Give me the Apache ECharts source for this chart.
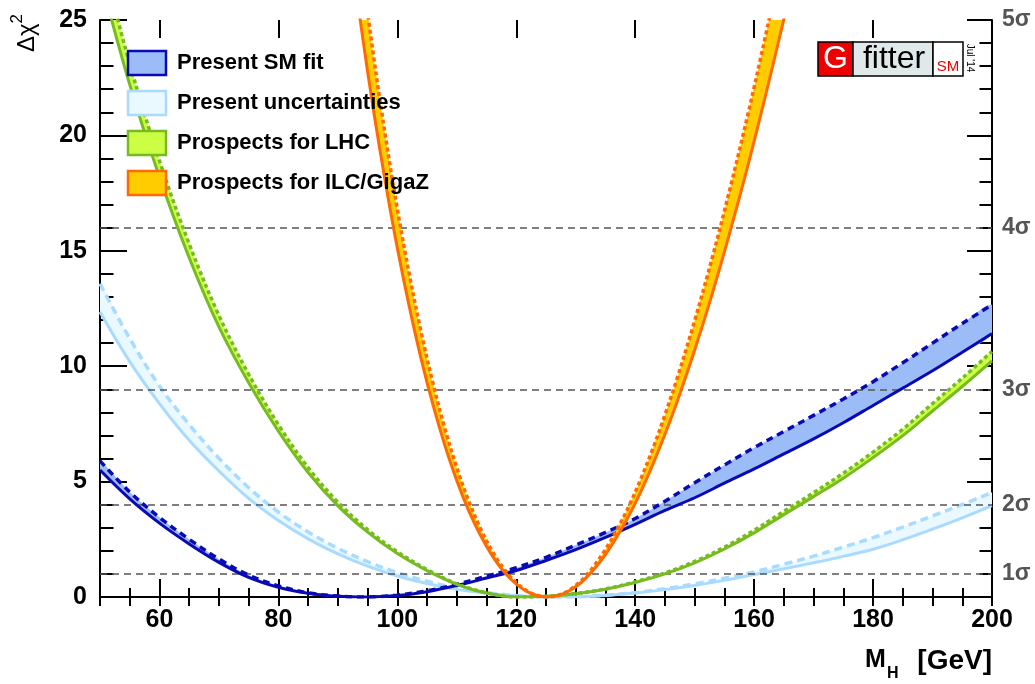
<!DOCTYPE html>
<html>
<head>
<meta charset="utf-8">
<title>Δχ² vs M_H</title>
<script src="https://cdn.jsdelivr.net/npm/echarts@6/dist/echarts.min.js"></script>
<style>
  html, body { margin: 0; padding: 0; background: #fff; }
  #chart { width: 1035px; height: 684px; }
</style>
</head>
<body>
<div id="chart"></div>
<script>
// Higgs mass scan points (GeV) shared by the three wide curves
const massGrid = [50, 55, 60, 65, 70, 75, 80, 85, 90, 95, 100, 105, 110, 115, 120, 125,
  130, 135, 140, 145, 150, 155, 160, 165, 170, 175, 180, 185, 190, 195, 200];

// Present SM fit: solid and dashed edge of the band
const smFitSolid = [5.5, 4.25, 3.2, 2.3, 1.5, 0.85, 0.42, 0.16, 0.03, 0.0, 0.06, 0.23, 0.5, 0.82, 1.15, 1.58,
  2.05, 2.58, 3.15, 3.75, 4.3, 4.93, 5.55, 6.2, 6.85, 7.55, 8.3, 9.05, 9.8, 10.6, 11.42];
const smFitDashed = [5.9, 4.55, 3.45, 2.5, 1.65, 0.95, 0.48, 0.18, 0.04, 0.0, 0.08, 0.27, 0.55, 0.9, 1.27, 1.72,
  2.25, 2.8, 3.4, 4.15, 4.95, 5.72, 6.47, 7.17, 7.87, 8.58, 9.33, 10.15, 11.0, 11.85, 12.66];

// Present uncertainties
const uncSolid = [12.35, 10.2, 8.38, 6.79, 5.46, 4.27, 3.31, 2.52, 1.87, 1.34, 0.91, 0.58, 0.33, 0.16, 0.05, 0.0,
  0.01, 0.07, 0.17, 0.32, 0.5, 0.72, 0.97, 1.22, 1.48, 1.76, 2.07, 2.48, 2.94, 3.43, 3.96];
const uncDashed = [13.57, 11.2, 9.14, 7.47, 6.01, 4.74, 3.68, 2.82, 2.11, 1.53, 1.06, 0.68, 0.39, 0.19, 0.06, 0.0,
  0.01, 0.08, 0.19, 0.36, 0.57, 0.81, 1.09, 1.42, 1.77, 2.16, 2.57, 3.03, 3.51, 4.01, 4.53];

// Prospects for LHC
const lhcSolid = [26.9, 22.2, 18.2, 14.7, 11.7, 9.28, 7.18, 5.39, 3.95, 2.81, 1.88, 1.14, 0.55, 0.17, 0.0, 0.03,
  0.14, 0.34, 0.63, 1.0, 1.48, 2.08, 2.78, 3.57, 4.35, 5.15, 6.04, 6.99, 8.06, 9.12, 10.23];
const lhcDashed = [28.0, 23.1, 18.9, 15.3, 12.2, 9.65, 7.47, 5.61, 4.11, 2.92, 1.96, 1.19, 0.57, 0.18, 0.0, 0.03,
  0.15, 0.35, 0.66, 1.04, 1.54, 2.16, 2.89, 3.71, 4.52, 5.36, 6.28, 7.27, 8.38, 9.48, 10.64];

// Prospects for ILC/GigaZ (finer mass points, narrow parabola)
const ilcMass = [92, 94, 96, 98, 100, 102, 104, 106, 108, 110, 112, 114, 116, 118, 120, 122, 124, 125.3,
  127, 129, 131, 133, 135, 137, 139, 141, 143, 145, 147, 150, 153, 156, 159, 162, 165, 168];
const ilcSolid = [28.4, 24.55, 21.08, 17.96, 15.12, 12.59, 10.32, 8.32, 6.56, 5.04, 3.74, 2.66, 1.77, 1.07, 0.56, 0.21, 0.03, 0.0,
  0.06, 0.28, 0.65, 1.18, 1.84, 2.64, 3.55, 4.60, 5.77, 7.05, 8.43, 10.70, 13.18, 15.87, 18.74, 21.82, 25.04, 28.4];
const ilcDashed = [31.5, 27.3, 23.44, 19.97, 16.81, 14.0, 11.48, 9.25, 7.29, 5.6, 4.16, 2.96, 1.97, 1.19, 0.62, 0.23, 0.04, 0.0,
  0.07, 0.31, 0.73, 1.32, 2.06, 2.95, 3.97, 5.15, 6.45, 7.89, 9.43, 11.97, 14.74, 17.75, 20.96, 24.41, 28.0, 31.8];

// Axis ticks and sigma reference levels
const xMajorTicks = [60, 80, 100, 120, 140, 160, 180, 200];
const sigmaLevels = [1, 4, 9, 16, 25];
const sigmaLabels = ['1σ', '2σ', '3σ', '4σ', '5σ'];
const legendNames = ['Present SM fit', 'Present uncertainties', 'Prospects for LHC', 'Prospects for ILC/GigaZ'];

const FONT = "'Liberation Sans', Arial, Helvetica, sans-serif";
const SMOOTH = 0.35;

const bands = [
  { name: legendNames[1], x: massGrid, solid: uncSolid, dashed: uncDashed,
    line: '#a9dbff', fill: '#eaf8ff', dash: [8, 5] },
  { name: legendNames[0], x: massGrid, solid: smFitSolid, dashed: smFitDashed,
    line: '#0a0ab4', fill: '#9bbcf7', dash: [7, 5] },
  { name: legendNames[2], x: massGrid, solid: lhcSolid, dashed: lhcDashed,
    line: '#77bb22', fill: '#ccff44', dash: [4, 3] },
  { name: legendNames[3], x: ilcMass, solid: ilcSolid, dashed: ilcDashed,
    line: '#ff6a00', fill: '#ffcc00', dash: [4, 3] }
];

const series = [];
// horizontal reference lines at the sigma levels inside the frame
series.push({
  type: 'line', data: [], z: 1, silent: true,
  markLine: {
    symbol: 'none', silent: true, label: { show: false },
    lineStyle: { color: '#555', width: 1.5, type: [7, 5] },
    data: sigmaLevels.filter(v => v < 25).map(v => ({ yAxis: v }))
  }
});

bands.forEach((b, i) => {
  const zBase = 2 + i * 2;
  // filled region between the solid and dashed edges
  series.push({
    name: b.name, type: 'custom', coordinateSystem: 'cartesian2d', z: zBase, silent: true, clip: true,
    data: [[b.x[0], b.solid[0]]],
    renderItem: (params, api) => {
      const pts = [];
      for (let k = 0; k < b.x.length; k++) pts.push(api.coord([b.x[k], b.solid[k]]));
      for (let k = b.x.length - 1; k >= 0; k--) pts.push(api.coord([b.x[k], b.dashed[k]]));
      const cs = params.coordSys;
      return {
        type: 'group',
        clipPath: { type: 'rect', shape: { x: cs.x, y: cs.y, width: cs.width, height: cs.height } },
        children: [{
          type: 'polygon',
          shape: { points: pts, smooth: SMOOTH },
          style: { fill: b.fill, stroke: null }
        }]
      };
    }
  });
  // solid edge
  series.push({
    name: b.name + ' (solid)', type: 'line',
    data: b.x.map((m, k) => [m, b.solid[k]]),
    showSymbol: false, smooth: SMOOTH, z: zBase + 1, silent: true,
    lineStyle: { color: b.line, width: 3, type: 'solid' }
  });
  // dashed edge
  series.push({
    name: b.name + ' (dashed)', type: 'line',
    data: b.x.map((m, k) => [m, b.dashed[k]]),
    showSymbol: false, smooth: SMOOTH, z: zBase + 1, silent: true,
    lineStyle: { color: b.line, width: 3.5, type: b.dash }
  });
});

const axisLineStyle = { color: '#000', width: 2 };
const tickStyle = { color: '#000', width: 2 };
const labelFont = { fontFamily: FONT, fontWeight: 'bold', fontSize: 25, color: '#000' };

const xBase = { type: 'value', min: 50, max: 200, splitLine: { show: false } };
const yBase = { type: 'value', min: 0, max: 25, splitLine: { show: false } };

// legend boxes and texts
const legendGraphics = [];
legendNames.forEach((name, i) => {
  const b = bands.find(s => s.name === name);
  const y0 = 51 + i * 40;
  legendGraphics.push({
    type: 'rect', shape: { x: 128, y: y0, width: 38, height: 24 }, z: 50,
    style: { fill: b.fill, stroke: b.line, lineWidth: 2.5 }
  });
  legendGraphics.push({
    type: 'text', x: 177, y: y0 + 12, z: 50,
    style: { text: name, fill: '#000', font: 'bold 22px ' + FONT, verticalAlign: 'middle' }
  });
});

// Gfitter badge
const logoGraphics = [
  { type: 'rect', shape: { x: 818, y: 42, width: 35, height: 34 }, style: { fill: '#ee0000', stroke: '#000', lineWidth: 1.5 }, z: 50 },
  { type: 'text', x: 835.5, y: 59.5, z: 51, style: { text: 'G', fill: '#fff', font: '32px ' + FONT, align: 'center', verticalAlign: 'middle' } },
  { type: 'rect', shape: { x: 853, y: 42, width: 80, height: 34 }, style: { fill: '#dfe9e9', stroke: '#000', lineWidth: 1.5 }, z: 50 },
  { type: 'text', x: 894, y: 59, z: 51, style: { text: 'fitter', fill: '#000', font: '32px ' + FONT, align: 'center', verticalAlign: 'middle' } },
  { type: 'rect', shape: { x: 933, y: 42, width: 30, height: 34 }, style: { fill: '#fff', stroke: '#000', lineWidth: 1.5 }, z: 50 },
  { type: 'text', x: 948, y: 66.5, z: 51, style: { text: 'SM', fill: '#ee0000', font: '15px ' + FONT, align: 'center', verticalAlign: 'middle' } },
  { type: 'text', x: 970, y: 58, rotation: -Math.PI / 2, z: 51, style: { text: "Jul '14", fill: '#000', font: '10px ' + FONT, align: 'center', verticalAlign: 'middle' } }
];

// axis titles
const titleGraphics = [
  { type: 'text', x: 24, y: 33, rotation: Math.PI / 2, z: 50,
    style: {
      text: '{a|Δχ}{s|2}', align: 'center', verticalAlign: 'middle',
      rich: {
        a: { fontFamily: FONT, fontSize: 24, fill: '#000', lineHeight: 30, verticalAlign: 'bottom' },
        s: { fontFamily: FONT, fontSize: 17, fill: '#000', lineHeight: 30, verticalAlign: 'top' }
      }
    } },
  { type: 'text', x: 865, y: 673, z: 50, style: { text: 'M', fill: '#000', font: 'bold 25px ' + FONT, verticalAlign: 'bottom' } },
  { type: 'text', x: 887, y: 682, z: 50, style: { text: 'H', fill: '#000', font: 'bold 16px ' + FONT, verticalAlign: 'bottom' } },
  { type: 'text', x: 992, y: 675, z: 50, style: { text: '[GeV]', fill: '#000', font: 'bold 28px ' + FONT, align: 'right', verticalAlign: 'bottom' } }
];

const option = {
  backgroundColor: '#fff',
  animation: false,
  grid: { left: 100, top: 20, width: 892, height: 577, containLabel: false },
  xAxis: [
    Object.assign({}, xBase, {
      position: 'bottom', interval: 5,
      axisLine: { lineStyle: axisLineStyle },
      axisTick: { inside: true, length: 9, lineStyle: tickStyle },
      axisLabel: Object.assign({ margin: 11, formatter: v => (v % 20 === 0 ? String(v) : '') }, labelFont)
    }),
    Object.assign({}, xBase, {
      position: 'bottom',
      axisLine: { show: false },
      axisTick: { inside: true, length: 18, lineStyle: tickStyle, customValues: xMajorTicks },
      axisLabel: { show: false }
    }),
    Object.assign({}, xBase, {
      position: 'top', interval: 5,
      axisLine: { lineStyle: axisLineStyle },
      axisTick: { inside: true, length: 9, lineStyle: tickStyle },
      axisLabel: { show: false }
    }),
    Object.assign({}, xBase, {
      position: 'top',
      axisLine: { show: false },
      axisTick: { inside: true, length: 18, lineStyle: tickStyle, customValues: xMajorTicks },
      axisLabel: { show: false }
    })
  ],
  yAxis: [
    Object.assign({}, yBase, {
      position: 'left', interval: 5,
      axisLine: { lineStyle: axisLineStyle },
      axisTick: { inside: true, length: 27, lineStyle: tickStyle },
      minorTick: { show: true, splitNumber: 5, length: 13.5, lineStyle: tickStyle },
      minorSplitLine: { show: false },
      axisLabel: Object.assign({ margin: 13 }, labelFont)
    }),
    Object.assign({}, yBase, {
      position: 'right', interval: 5,
      axisLine: { lineStyle: axisLineStyle },
      axisTick: { inside: true, length: 25, lineStyle: tickStyle },
      minorTick: { show: true, splitNumber: 5, length: 12.5, lineStyle: tickStyle },
      minorSplitLine: { show: false },
      axisLabel: { show: false }
    }),
    Object.assign({}, yBase, {
      position: 'right', interval: 1,
      axisLine: { show: false },
      axisTick: { show: false },
      axisLabel: {
        margin: 10, fontFamily: FONT, fontWeight: 'bold', fontSize: 23, color: '#555',
        formatter: v => { const i = sigmaLevels.indexOf(v); return i >= 0 ? sigmaLabels[i] : ''; }
      }
    })
  ],
  series: series,
  graphic: legendGraphics.concat(logoGraphics, titleGraphics)
};

const chart = echarts.init(document.getElementById('chart'), null, { renderer: 'canvas' });
chart.setOption(option);
</script>
</body>
</html>
